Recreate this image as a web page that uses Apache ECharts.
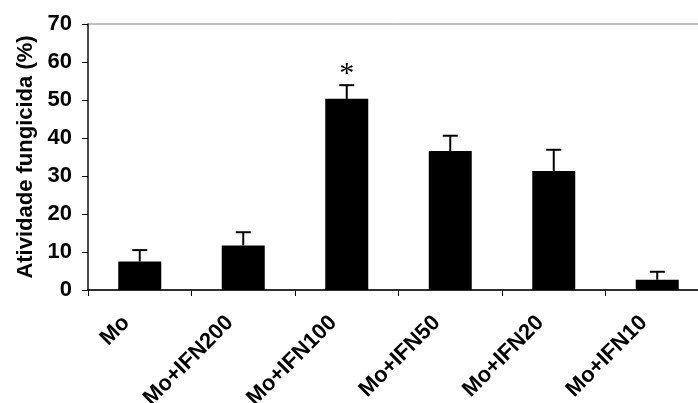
<!DOCTYPE html>
<html>
<head>
<meta charset="utf-8">
<script src="https://cdn.jsdelivr.net/npm/echarts@6/dist/echarts.min.js"></script>
<style>html,body{margin:0;padding:0;background:#fff;}#c{width:698px;height:403px;}</style>
</head>
<body>
<div id="c"></div>
<script>
var categories = ['Mo', 'Mo+IFN200', 'Mo+IFN100', 'Mo+IFN50', 'Mo+IFN20', 'Mo+IFN10'];
var means = [7.5, 11.7, 50.3, 36.6, 31.3, 2.7];
var errors = [3.0, 3.5, 3.6, 4.0, 5.6, 2.1];
var marks = ['', '', '*', '', '', ''];
var yTicks = [0, 10, 20, 30, 40, 50, 60, 70];

var FONT = '"Liberation Sans", Arial, sans-serif';
var chart = echarts.init(document.getElementById('c'), null, {renderer: 'canvas'});
var errData = categories.map(function (c, i) { return [i, means[i], errors[i], marks[i]]; });

chart.setOption({
  animation: false,
  backgroundColor: '#fff',
  grid: {left: 88, width: 621, top: 24, height: 266, outerBoundsMode: 'none', containLabel: false, show: true, borderColor: '#808080', borderWidth: 1, backgroundColor: 'transparent'},
  xAxis: {
    type: 'category',
    data: categories,
    axisLine: {lineStyle: {color: '#000', width: 1.5}},
    axisTick: {show: true, length: 6, lineStyle: {color: '#000', width: 1}},
    axisLabel: {rotate: 45, margin: 16, color: '#000', fontFamily: FONT, fontWeight: 'bold', fontSize: 22, padding: [0, 19, 0, 0], interval: 0}
  },
  yAxis: {
    type: 'value',
    min: yTicks[0], max: yTicks[yTicks.length - 1], interval: 10,
    name: 'Atividade fungicida (%)',
    nameLocation: 'middle',
    nameGap: 51,
    nameTextStyle: {color: '#000', fontFamily: FONT, fontWeight: 'bold', fontSize: 22},
    axisLine: {show: true, lineStyle: {color: '#222', width: 1.5}},
    axisTick: {show: true, length: 6, lineStyle: {color: '#000'}},
    axisLabel: {margin: 16, color: '#000', fontFamily: FONT, fontWeight: 'bold', fontSize: 22},
    splitLine: {show: false}
  },
  series: [
    {
      type: 'bar',
      data: means,
      barWidth: 43,
      itemStyle: {color: '#000'},
      z: 2
    },
    {
      type: 'custom',
      data: errData,
      z: 3,
      renderItem: function (params, api) {
        var i = api.value(0), m = api.value(1), e = api.value(2);
        var base = api.coord([i, m]);
        var top = api.coord([i, m + e]);
        var hw = 7.5;
        var children = [
          {type: 'line', shape: {x1: base[0], y1: base[1], x2: top[0], y2: top[1]}, style: {stroke: '#000', lineWidth: 2}},
          {type: 'line', shape: {x1: top[0] - hw, y1: top[1], x2: top[0] + hw, y2: top[1]}, style: {stroke: '#000', lineWidth: 2}}
        ];
        var mk = marks[params.dataIndex];
        if (mk) {
          children.push({type: 'text', style: {text: mk, x: top[0], y: top[1] + 4, textAlign: 'center', textVerticalAlign: 'bottom', fontSize: 30, fontFamily: '"Liberation Serif", serif', fill: '#000'}});
        }
        return {type: 'group', children: children};
      }
    }
  ]
});
</script>
</body>
</html>
